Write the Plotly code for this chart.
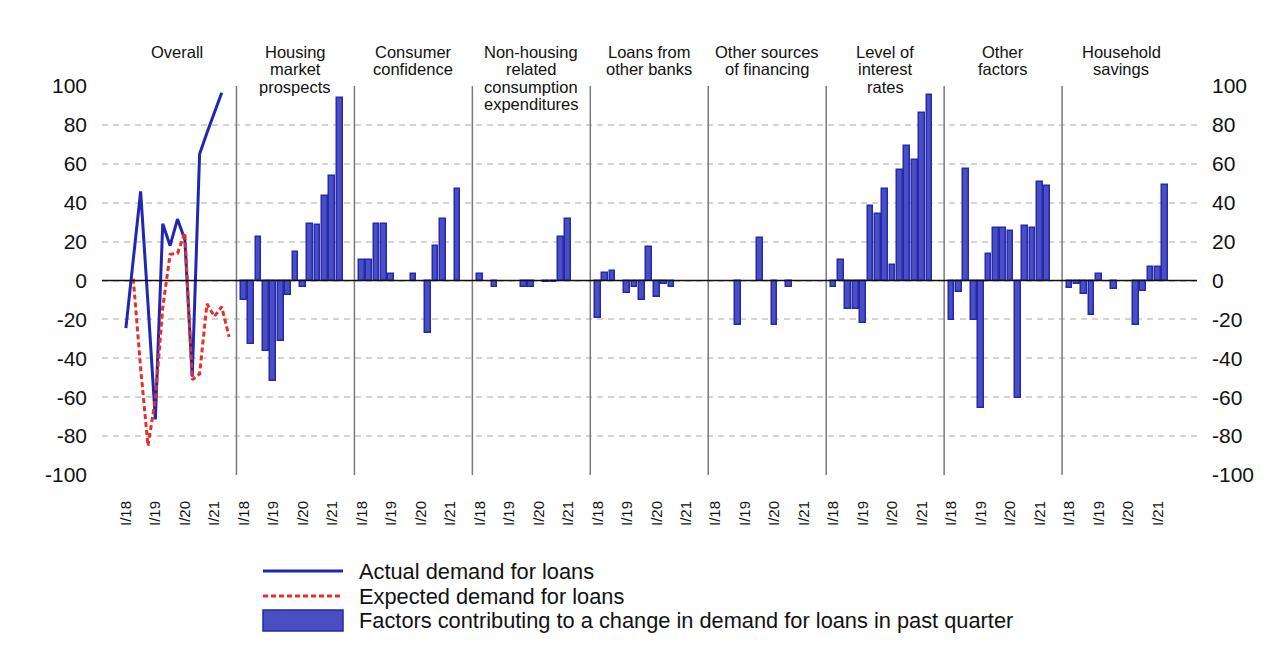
import plotly.graph_objects as go

# ---------------- data ----------------
quarters = ["I/18", "II/18", "III/18", "IV/18", "I/19", "II/19", "III/19", "IV/19",
            "I/20", "II/20", "III/20", "IV/20", "I/21", "II/21", "III/21"]

panel_titles = ["Overall", "Housing\nmarket\nprospects", "Consumer\nconfidence",
                "Non-housing\nrelated\nconsumption\nexpenditures", "Loans from\nother banks",
                "Other sources\nof financing", "Level of\ninterest\nrates", "Other\nfactors",
                "Household\nsavings"]

actual_demand = [-24.5, 10, 45.8, -12, -71.4, 29.2, 17.9, 31.6, 20.9, -49.5, 65, 76, 86, 96.5, None]
expected_demand = [None, 1, -45, -85, -61, -14, 13.5, 14, 24.5, -51, -48, -12, -18.5, -13.5, -29]

housing_market = [-9.8, -32.6, 22.6, -36, -51.8, -31.2, -7.2, 14.9, -3.4, 29.3, 28.6, 43.2, 53.5, 93.6]
consumer_confidence = [10.3, 10.3, 28.8, 28.8, 3.1, 0, 0, 3.1, 0, -27.2, 17.5, 31.4, 0, 47.3]
non_housing = [3.6, 0, -3.1, 0, 0, 0, -3.1, -3.1, 0, -1, -1, 22.3, 31.5, 0]
loans_other_banks = [-19.5, 3.9, 5, 0, -6.3, -3.3, -9.9, 17.3, -8.4, -1.7, -3.1, 0, 0, 0]
other_sources = [0, 0, 0, -22.8, 0, 0, 22.1, 0, -22.8, 0, -3.1, 0, 0, 0]
interest_rates = [-3.4, 10.3, -14.9, -14.6, -21.6, 38.4, 34.4, 47, 7.9, 56.6, 69.4, 61.7, 85.9, 95.6]
other_factors = [-20.4, -6, 57.1, -20.4, -65.6, 13.4, 27.2, 27.2, 25.7, -60.5, 27.8, 27.2, 50.9, 48.5]
household_savings = [-3.9, -1.7, -6.7, -17.8, 3.1, 0, -4.6, 0, 0, -23, -5.5, 6.9, 6.9, 49.2]

factor_series = [housing_market, consumer_confidence, non_housing, loans_other_banks,
                 other_sources, interest_rates, other_factors, household_savings]

y_ticks = [-100, -80, -60, -40, -20, 0, 20, 40, 60, 80, 100]

# ---------------- style ----------------
FONT = "Liberation Sans, Arial, sans-serif"
BAR_FILL = "#4a4ec0"
BAR_EDGE = "#2329b0"
BLUE = "#1f27b3"
RED = "#e3302a"
SLOTS = 16  # slots per panel (boundary + 14 quarters + gap)

L, R, T, B = 102, 80, 86, 188
W, H = 1277, 663
PW, PH = W - L - R, H - T - B


def px_x(x):
    return (x - L) / PW


def px_y(y):
    return (T + PH - y) / PH


fig = go.Figure()

# Overall panel lines
xq = [i + 1 for i in range(len(quarters))]
fig.add_trace(go.Scatter(x=xq, y=actual_demand, mode="lines",
                         line=dict(color=BLUE, width=3), name="Actual demand for loans",
                         showlegend=False, connectgaps=False))
fig.add_trace(go.Scatter(x=xq, y=expected_demand, mode="lines",
                         line=dict(color=RED, width=3, dash="5px,3px"),
                         name="Expected demand for loans", showlegend=False))

# Factor bars
for p, series in enumerate(factor_series, start=1):
    xs = [p * SLOTS + i + 1 for i in range(len(series))]
    ys = [v if v != 0 else None for v in series]
    fig.add_trace(go.Bar(x=xs, y=ys, width=0.78,
                         marker=dict(color=BAR_FILL, line=dict(color=BAR_EDGE, width=1.5)),
                         name="Factors contributing to a change in demand for loans in past quarter",
                         showlegend=False))

# invisible trace for right axis
fig.add_trace(go.Scatter(x=[None], y=[None], yaxis="y2", showlegend=False, hoverinfo="skip"))

shapes = []
# separators
for p in range(1, len(panel_titles)):
    shapes.append(dict(type="line", xref="x", yref="paper", x0=p * SLOTS, x1=p * SLOTS,
                       y0=0, y1=1, line=dict(color="#7a7a7a", width=1.5), layer="above"))
# zero line
shapes.append(dict(type="line", xref="paper", yref="y", x0=0, x1=1, y0=0, y1=0,
                   line=dict(color="#111111", width=1.6), layer="above"))

annotations = []
# panel titles
for p, title in enumerate(panel_titles):
    for j, line in enumerate(title.split("\n")):
        annotations.append(dict(x=p * SLOTS + 8, xref="x", y=px_y(52 + 17.3 * j), yref="paper",
                                text=line, showarrow=False, xanchor="center", yanchor="middle",
                                font=dict(family=FONT, size=16.5, color="#111111")))

# manual legend
leg_rows = [571, 596, 620]
leg_labels = ["Actual demand for loans", "Expected demand for loans",
              "Factors contributing to a change in demand for loans in past quarter"]
shapes.append(dict(type="line", xref="paper", yref="paper", x0=px_x(263), x1=px_x(343),
                   y0=px_y(571), y1=px_y(571), line=dict(color=BLUE, width=3)))
shapes.append(dict(type="line", xref="paper", yref="paper", x0=px_x(263), x1=px_x(343),
                   y0=px_y(596), y1=px_y(596), line=dict(color=RED, width=3, dash="5px,3px")))
shapes.append(dict(type="rect", xref="paper", yref="paper", x0=px_x(263), x1=px_x(343),
                   y0=px_y(631), y1=px_y(610), fillcolor=BAR_FILL,
                   line=dict(color=BAR_EDGE, width=1.5)))
for yy, lab in zip(leg_rows, leg_labels):
    annotations.append(dict(x=px_x(357), xref="paper", y=px_y(yy), yref="paper", text=lab,
                            showarrow=False, xanchor="left", yanchor="middle",
                            font=dict(family=FONT, size=21.8, color="#111111")))

# x ticks: I/yy labels in each panel
tickvals, ticktext = [], []
for p in range(len(panel_titles)):
    for i, q in enumerate(quarters[:14]):
        if q.startswith("I/"):
            tickvals.append(p * SLOTS + i + 1)
            ticktext.append(q)

fig.update_layout(
    width=W, height=H,
    margin=dict(l=L, r=R, t=T, b=B, autoexpand=False),
    paper_bgcolor="white", plot_bgcolor="white",
    bargap=0, barmode="overlay",
    showlegend=False,
    shapes=shapes, annotations=annotations,
    font=dict(family=FONT, color="#111111"),
    xaxis=dict(range=[-2.24, 146.3], tickvals=tickvals, ticktext=ticktext, tickangle=-90,
               showgrid=False, zeroline=False, showline=False, ticks="",
               ticklabelstandoff=22, tickfont=dict(family=FONT, size=15, color="#111111")),
    yaxis=dict(range=[-100, 100], tickvals=y_ticks, ticktext=[str(v) for v in y_ticks],
               showgrid=True, gridcolor="#d4d4d4", griddash="6px,5px", gridwidth=1.5,
               zeroline=False, showline=False, ticks="", ticklabelstandoff=14,
               tickfont=dict(family=FONT, size=21, color="#111111")),
    yaxis2=dict(range=[-100, 100], overlaying="y", side="right", tickvals=y_ticks,
                ticktext=[str(v) for v in y_ticks], showgrid=False, zeroline=False,
                showline=False, ticks="", ticklabelstandoff=14,
                tickfont=dict(family=FONT, size=21, color="#111111")),
)

fig.write_html("out.html", config={"displayModeBar": False},
               post_script="document.body.style.margin='0';document.body.style.overflow='hidden';")
